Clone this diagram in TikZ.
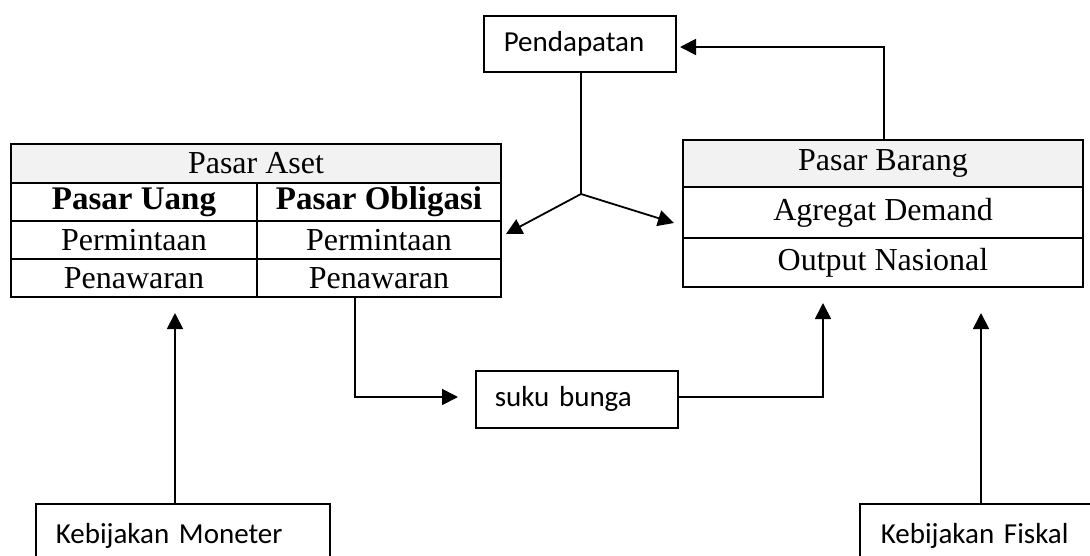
\documentclass[tikz,border=0pt]{standalone}
\usepackage{fontspec}
\setmainfont{Liberation Serif}
\newfontfamily\calibri{Carlito}
\usetikzlibrary{arrows.meta}
\definecolor{hdr}{HTML}{F2F2F2}
\begin{document}
\begin{tikzpicture}[x=1pt,y=-1pt,
  cell/.style={draw, line width=1.6pt, inner sep=0pt, font=\fontsize{32}{36}\selectfont},
  cbox/.style={draw, line width=1.6pt, inner ysep=0pt, align=left, anchor=north west, font=\calibri\fontsize{29}{34}\selectfont},
  arr/.style={line width=1.8pt, -{Triangle[width=16pt,length=16pt]}},
  ln/.style={line width=1.8pt}]
\fill[white] (0,0) rectangle (1090,555);
\useasboundingbox (0,0) rectangle (1090,555);
\clip (0,0) rectangle (1090,555);

% Pasar Aset table
\node[cell, fill=hdr, minimum width=490pt, minimum height=39pt] (asetH) at (256,163.5) {Pasar Aset};
\node[cell, minimum width=246pt, minimum height=38pt] (uang) at (134,202) {\fontsize{33}{36}\selectfont\bfseries Pasar Uang};
\node[cell, minimum width=244pt, minimum height=38pt] (oblig) at (379,202) {\fontsize{33}{36}\selectfont\bfseries Pasar Obligasi};
\node[cell, minimum width=246pt, minimum height=38pt] (per1) at (134,240) {Permintaan};
\node[cell, minimum width=244pt, minimum height=38pt] (per2) at (379,240) {Permintaan};
\node[cell, minimum width=246pt, minimum height=38pt] (pen1) at (134,278) {Penawaran};
\node[cell, minimum width=244pt, minimum height=38pt] (pen2) at (379,278) {Penawaran};

% Pasar Barang table
\node[cell, fill=hdr, minimum width=400pt, minimum height=47pt] (barH) at (883,163.5) {Pasar Barang};
\node[cell, minimum width=400pt, minimum height=51pt] (ad) at (883,212.5) {Agregat Demand};
\node[cell, minimum width=400pt, minimum height=49pt] (on) at (883,262.5) {Output Nasional};

% Calibri boxes
\node[cbox, inner xsep=20pt, text width=152pt, minimum height=56pt] (pend) at (483,15) {Pendapatan};
\node[cbox, inner xsep=19pt, text width=164pt, minimum height=57pt] (sb) at (475,370) {suku bunga};
\node[cbox, inner xsep=20pt, text width=254pt, minimum height=64pt] (mon) at (35,503) {Kebijakan Moneter};
\node[cbox, inner xsep=21pt, text width=210pt, minimum height=64pt] (fis) at (859,503) {Kebijakan Fiskal};

% coordinates
\coordinate (t1) at (884,47);
\coordinate (t2) at (680,47);
\coordinate (j) at (581,194);
\coordinate (jl) at (506,234);
\coordinate (jr) at (674,223);
\coordinate (c3) at (355,397);
\coordinate (c3e) at (458,397);
\coordinate (c4) at (823,303);
\coordinate (m1) at (175,313);
\coordinate (f1) at (981,313);

% connectors
\draw[arr] (barH.north -| t1) -- (t1) -- (t2);
\draw[ln] (pend.south -| j) -- (j);
\draw[arr] (j) -- (jl);
\draw[arr] (j) -- (jr);
\draw[arr] (pen2.south -| c3) -- (c3) -- (c3e);
\draw[arr] (sb.east |- c3) -| (c4);
\draw[arr] (mon.north -| m1) -- (m1);
\draw[arr] (fis.north -| f1) -- (f1);
\end{tikzpicture}
\end{document}
